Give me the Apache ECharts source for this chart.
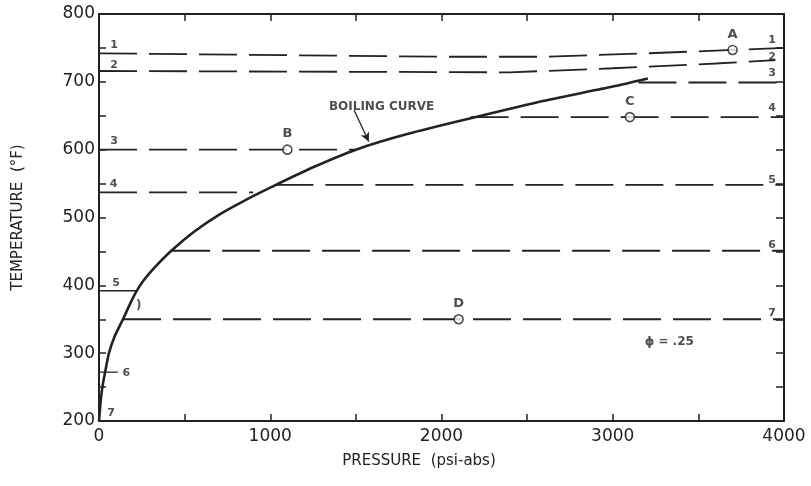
<!DOCTYPE html>
<html><head><meta charset="utf-8">
<script src="https://cdn.jsdelivr.net/npm/echarts@6/dist/echarts.min.js"></script>
<style>html,body{margin:0;padding:0;background:#fff}#c{width:811px;height:486px}</style>
</head><body><div id="c"></div>
<script>
// Boiling curve (pressure psi-abs, temperature °F)
const boilingCurve = [[0,200],[12,235],[25,258],[35,271],[58,300],[90,324],[140,350],[180,372],[216,390],[260,407],[320,425],[427,452],[555,479],[700,504],[850,525],[1000,544],[1250,574],[1500,600],[1800,623],[2200,648],[2600,672],[3000,693],[3205,705]];
// Constant-enthalpy lines (dashed / solid pieces)
const line1 = [[0,742],[2000,737],[2600,737],[3200,742],[3700,747],[4000,750]];
const line2 = [[0,716],[2400,714],[3000,720],[3600,727],[3950,732]];
const line3a = [[0,600],[1490,600]];
const line3b = [[3150,699],[4000,699]];
const line4a = [[0,537],[900,537]];
const line4b = [[2170,648],[4000,648]];
const line5a = [[0,392],[220,392]];
const line5b = [[1030,548],[4000,548]];
const line6a = [[0,272],[110,272]];
const line6b = [[427,451],[4000,451]];
const line7 = [[140,350],[4000,350]];
// State points
const statePoints = [[3700,747,'A'],[1100,600,'B'],[3100,648,'C'],[2100,350,'D']];
// Line number labels
const leftLabels = [[88,754,'1'],[88,725,'2'],[88,613,'3'],[85,549,'4'],[100,403,'5'],[160,271,'6'],[70,212,'7']];
const rightLabels = [[3930,762,'1'],[3930,737,'2'],[3930,713,'3'],[3930,661,'4'],[3930,555,'5'],[3930,459,'6'],[3930,359,'7']];
const arrowPts = [[1490,658],[1575,612]];
const notes = [[1650,663,'BOILING CURVE'],[3330,317,'ϕ = .25'],[232,370,')']];

const ink = '#222';
const font = 'DejaVu Sans';
function seg(data, dashed, w) {
  return {type:'line', data, symbol:'none', silent:true, z:3,
    lineStyle:{color:ink, width:w||1.8, type: dashed ? [38,12] : 'solid'}};
}
const series = [
  {type:'line', data:boilingCurve, symbol:'none', smooth:0.25, z:4, lineStyle:{color:ink,width:2.6}},
  seg(line1,true), seg(line2,true), seg(line3a,true), seg(line3b,true),
  seg(line4a,true), seg(line4b,true), seg(line5a,false,1.4), seg(line5b,true),
  seg(line6a,false,1.4), seg(line6b,true), seg(line7,true),
  {type:'line', data:[], symbol:'none', z:5,
    markLine:{silent:true, symbol:['none','arrow'], symbolSize:[7,9],
      lineStyle:{color:ink, width:1.3, type:'solid'}, label:{show:false},
      data:[[{coord:arrowPts[0]},{coord:arrowPts[1]}]]}},
  {type:'scatter', data:statePoints, symbol:'circle', symbolSize:9, z:6,
    itemStyle:{color:'#fff', borderColor:ink, borderWidth:1.6},
    label:{show:true, position:'top', distance:4, formatter:p=>p.data[2], color:ink, fontFamily:font, fontSize:13, fontWeight:'bold'}},
  {type:'scatter', data:leftLabels.concat(rightLabels), symbolSize:0, z:6,
    label:{show:true, position:'inside', formatter:p=>p.data[2], color:ink, fontFamily:font, fontSize:11, fontWeight:'bold'}},
  {type:'scatter', data:notes, symbolSize:0, z:6,
    label:{show:true, position:'inside', formatter:p=>p.data[2], color:ink, fontFamily:font, fontSize:12, fontWeight:'bold'}}
];
const axisLine = {show:true, onZero:false, lineStyle:{color:ink, width:2}};
const chart = echarts.init(document.getElementById('c'), null, {renderer:'canvas'});
chart.setOption({
  animation:false,
  backgroundColor:'#fff',
  grid:{left:99, right:27, top:14, bottom:65},
  xAxis:[{type:'value', min:0, max:4000, interval:500, position:'bottom',
    name:'PRESSURE  (psi-abs)', nameLocation:'middle', nameGap:33,
    nameTextStyle:{fontFamily:font, fontSize:15, color:ink, padding:[0,45,0,0]},
    axisLine,
    axisTick:{show:true, inside:true, length:7, lineStyle:{color:ink, width:1.5}},
    axisLabel:{fontFamily:font, fontSize:17, color:ink, margin:7, formatter:v=> v%1000===0 ? String(v) : ''},
    splitLine:{show:false}},
    {type:'value', min:0, max:4000, interval:500, position:'top',
    axisLine,
    axisTick:{show:true, inside:true, length:7, lineStyle:{color:ink, width:1.5}},
    axisLabel:{show:false}, splitLine:{show:false}}],
  yAxis:[{type:'value', min:200, max:800, interval:50, position:'left',
    name:'TEMPERATURE  (°F)', nameLocation:'middle', nameGap:73,
    nameTextStyle:{fontFamily:font, fontSize:15, color:ink},
    axisLine,
    axisTick:{show:true, inside:true, length:7, lineStyle:{color:ink, width:1.5}},
    axisLabel:{fontFamily:font, fontSize:17, color:ink, margin:4, formatter:v=> v%100===0 ? String(v) : ''},
    splitLine:{show:false}},
    {type:'value', min:200, max:800, interval:50, position:'right',
    axisLine,
    axisTick:{show:true, inside:true, length:8, lineStyle:{color:ink, width:1.5}},
    axisLabel:{show:false}, splitLine:{show:false}}],
  series
});
</script></body></html>
